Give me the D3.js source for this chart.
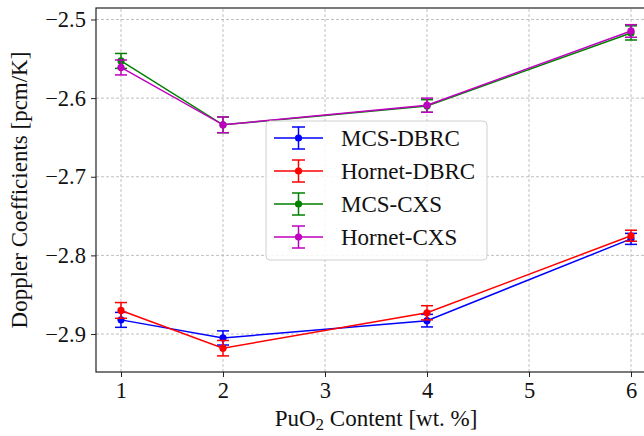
<!DOCTYPE html>
<html lang="en">
<head>
    <meta charset="UTF-8">
    <title>Doppler Coefficients</title>
    <script src="https://d3js.org/d3.v7.min.js"></script>
    <style>
        body { margin: 0; background: #fff; }
        .grid line { stroke: #b0b0b0; stroke-width: 0.8; stroke-dasharray: 3,2; }
    </style>
</head>
<body>
<script>
    // PuO2 content (wt. %)
    const puo2 = [1, 2, 4, 6];

    const seriesNames = ["MCS-DBRC", "Hornet-DBRC", "MCS-CXS", "Hornet-CXS"];
    const seriesColors = ["#0000ff", "#ff0000", "#008000", "#bf00bf"];

    const mcsDbrc = [-2.882, -2.905, -2.883, -2.779];
    const mcsDbrcErr = [0.0095, 0.009, 0.008, 0.007];
    const hornetDbrc = [-2.870, -2.918, -2.873, -2.775];
    const hornetDbrcErr = [0.010, 0.0098, 0.009, 0.007];
    const mcsCxs = [-2.5527, -2.634, -2.610, -2.5171];
    const mcsCxsErr = [0.0095, 0.010, 0.008, 0.009];
    const hornetCxs = [-2.561, -2.634, -2.609, -2.5146];
    const hornetCxsErr = [0.0095, 0.010, 0.009, 0.008];

    const xTicks = [1, 2, 3, 4, 5, 6];
    const yTicks = [-2.9, -2.8, -2.7, -2.6, -2.5];

    const FONT = "Liberation Serif";
    const FS = 22.5;

    const series = [
        {name: seriesNames[0], color: seriesColors[0], vals: mcsDbrc, errs: mcsDbrcErr},
        {name: seriesNames[1], color: seriesColors[1], vals: hornetDbrc, errs: hornetDbrcErr},
        {name: seriesNames[2], color: seriesColors[2], vals: mcsCxs, errs: mcsCxsErr},
        {name: seriesNames[3], color: seriesColors[3], vals: hornetCxs, errs: hornetCxsErr}
    ];

    const width = 644, height = 436;
    const margin = {left: 96, right: -12, top: 8, bottom: 64};

    const svg = d3.select("body").append("svg")
        .attr("width", width)
        .attr("height", height)
        .attr("font-family", FONT);

    const x = d3.scaleLinear()
        .domain([0.755, 6.245])
        .range([margin.left, width - margin.right]);
    const y = d3.scaleLinear()
        .domain([-2.9483, -2.4854])
        .range([height - margin.bottom, margin.top]);

    // grid
    const grid = svg.append("g").attr("class", "grid");
    grid.selectAll(".gx").data(xTicks).join("line")
        .attr("x1", d => x(d)).attr("x2", d => x(d))
        .attr("y1", y.range()[0]).attr("y2", y.range()[1]);
    grid.selectAll(".gy").data(yTicks).join("line")
        .attr("y1", d => y(d)).attr("y2", d => y(d))
        .attr("x1", x.range()[0]).attr("x2", x.range()[1]);

    // axes
    const fmt = d => d3.format(".1f")(d).replace("-", "\u2212");
    const xAxis = svg.append("g")
        .attr("transform", `translate(0,${y.range()[0]})`)
        .call(d3.axisBottom(x).tickValues(xTicks).tickSize(5).tickPadding(5).tickFormat(d3.format("d")));
    const yAxis = svg.append("g")
        .attr("transform", `translate(${x.range()[0]},0)`)
        .call(d3.axisLeft(y).tickValues(yTicks).tickSize(5).tickPadding(5).tickFormat(fmt));
    [xAxis, yAxis].forEach(a => {
        a.attr("font-family", FONT);
        a.select(".domain").remove();
        a.selectAll("line").attr("stroke", "#222").attr("stroke-width", 1);
        a.selectAll("text").attr("font-family", FONT).attr("font-size", FS).attr("fill", "#111");
    });

    // frame
    svg.append("rect")
        .attr("x", x.range()[0]).attr("y", y.range()[1])
        .attr("width", x.range()[1] - x.range()[0])
        .attr("height", y.range()[0] - y.range()[1])
        .attr("fill", "none").attr("stroke", "#222").attr("stroke-width", 1.2);

    // series
    const line = d3.line().x(d => x(d[0])).y(d => y(d[1]));
    const capW = 6;
    series.forEach(s => {
        const pts = puo2.map((p, i) => [p, s.vals[i], s.errs[i]]);
        const g = svg.append("g");
        g.append("path")
            .attr("d", line(pts))
            .attr("fill", "none")
            .attr("stroke", s.color)
            .attr("stroke-width", 1.5);
        const eb = g.selectAll(".eb").data(pts).join("g");
        eb.append("line")
            .attr("x1", d => x(d[0])).attr("x2", d => x(d[0]))
            .attr("y1", d => y(d[1] - d[2])).attr("y2", d => y(d[1] + d[2]))
            .attr("stroke", s.color).attr("stroke-width", 1.5);
        [-1, 1].forEach(sg => {
            eb.append("line")
                .attr("x1", d => x(d[0]) - capW).attr("x2", d => x(d[0]) + capW)
                .attr("y1", d => y(d[1] + sg * d[2])).attr("y2", d => y(d[1] + sg * d[2]))
                .attr("stroke", s.color).attr("stroke-width", 1.5);
        });
        g.selectAll("circle").data(pts).join("circle")
            .attr("cx", d => x(d[0])).attr("cy", d => y(d[1]))
            .attr("r", 3.6).attr("fill", s.color);
    });

    // axis labels
    const xl = svg.append("text")
        .attr("x", (x.range()[0] + x.range()[1]) / 2)
        .attr("y", 426)
        .attr("text-anchor", "middle")
        .attr("font-family", FONT)
        .attr("font-size", 23).attr("fill", "#111");
    xl.append("tspan").text("PuO");
    xl.append("tspan").attr("font-size", 17).attr("dy", 4).text("2");
    xl.append("tspan").attr("dy", -4).text(" Content [wt. %]");

    svg.append("text")
        .attr("transform", `translate(27,${(y.range()[0] + y.range()[1]) / 2}) rotate(-90)`)
        .attr("text-anchor", "middle")
        .attr("font-family", FONT)
        .attr("font-size", 23).attr("fill", "#111")
        .text("Doppler Coefficients [pcm/K]");

    // legend
    const lg = svg.append("g").attr("transform", "translate(266,121)");
    lg.append("rect")
        .attr("width", 221).attr("height", 139).attr("rx", 4)
        .attr("fill", "#fff").attr("fill-opacity", 0.85)
        .attr("stroke", "#d0d0d0").attr("stroke-width", 1);
    const row = lg.selectAll(".row").data(series).join("g")
        .attr("transform", (d, i) => `translate(0,${17 + i * 33})`);
    row.append("line").attr("x1", 8).attr("x2", 57).attr("y1", 0).attr("y2", 0)
        .attr("stroke", d => d.color).attr("stroke-width", 1.5);
    row.append("line").attr("x1", 32.5).attr("x2", 32.5).attr("y1", -11).attr("y2", 11)
        .attr("stroke", d => d.color).attr("stroke-width", 1.5);
    [-11, 11].forEach(cy => {
        row.append("line").attr("x1", 26).attr("x2", 39).attr("y1", cy).attr("y2", cy)
            .attr("stroke", d => d.color).attr("stroke-width", 1.5);
    });
    row.append("circle").attr("cx", 32.5).attr("cy", 0).attr("r", 3.6).attr("fill", d => d.color);
    row.append("text").attr("x", 75).attr("y", 8)
        .attr("font-family", FONT)
        .attr("font-size", 23).attr("fill", "#111")
        .text(d => d.name);
</script>
</body>
</html>
